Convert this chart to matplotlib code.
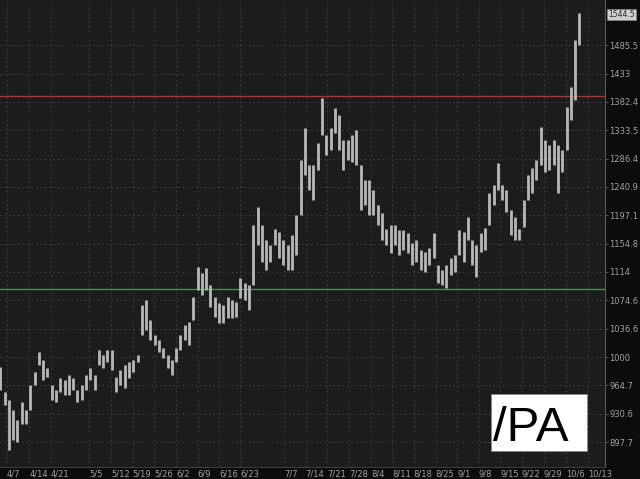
import numpy as np
import matplotlib
matplotlib.use("Agg")
import matplotlib.pyplot as plt
from matplotlib.ticker import NullLocator

# daily high / low, one entry per trading day (first day ~ 4/2, last ~ 10/8)
highs = [988, 956, 947, 935, 923, 944, 935, 965, 981, 1006,
         996, 986, 965, 959, 974, 971, 978, 974, 959, 965,
         978, 986, 978, 1009, 1003, 1009, 1009, 975, 984, 990,
         994, 996, 1003, 1068, 1075, 1048, 1028, 1022, 1012, 1003,
         996, 1012, 1028, 1042, 1046, 1079, 1121, 1112, 1120, 1096,
         1079, 1071, 1068, 1079, 1075, 1072, 1105, 1099, 1096, 1183,
         1209, 1183, 1160, 1153, 1176, 1172, 1160, 1153, 1168, 1198,
         1284, 1337, 1276, 1276, 1312, 1390, 1326, 1337, 1372, 1360,
         1317, 1317, 1326, 1334, 1276, 1252, 1252, 1236, 1213, 1201,
         1176, 1183, 1183, 1175, 1175, 1171, 1156, 1160, 1146, 1143,
         1149, 1171, 1124, 1117, 1124, 1134, 1138, 1175, 1172, 1195,
         1160, 1153, 1171, 1178, 1231, 1244, 1279, 1244, 1236, 1205,
         1195, 1176, 1221, 1260, 1271, 1284, 1339, 1317, 1309, 1317,
         1309, 1301, 1374, 1409, 1496, 1548]
lows = [959, 941, 889, 900, 898, 918, 918, 935, 965, 990,
        971, 975, 947, 944, 957, 953, 953, 959, 944, 947,
        959, 971, 959, 990, 986, 994, 984, 956, 965, 961,
        974, 981, 994, 1028, 1035, 1022, 1016, 1006, 999, 986,
        978, 994, 1009, 1022, 1016, 1048, 1089, 1082, 1089, 1066,
        1052, 1044, 1044, 1051, 1051, 1052, 1078, 1075, 1062, 1096,
        1153, 1128, 1117, 1128, 1153, 1134, 1124, 1117, 1117, 1138,
        1198, 1260, 1236, 1221, 1268, 1326, 1292, 1301, 1329, 1301,
        1268, 1284, 1281, 1276, 1205, 1213, 1198, 1198, 1183, 1160,
        1153, 1141, 1153, 1138, 1146, 1141, 1124, 1128, 1117, 1114,
        1124, 1134, 1099, 1096, 1092, 1110, 1114, 1138, 1128, 1160,
        1124, 1107, 1143, 1146, 1183, 1213, 1236, 1221, 1202, 1168,
        1160, 1160, 1179, 1221, 1231, 1252, 1276, 1265, 1268, 1276,
        1231, 1265, 1301, 1351, 1386, 1486]
last_price = 1544.5

resistance = 1393
support = 1090

y_ticks = [897.7, 930.6, 964.7, 1000, 1036.6, 1074.6, 1114, 1154.8, 1197.1,
           1240.9, 1286.4, 1333.5, 1382.4, 1433, 1485.5]
x_labels = ['4/7', '4/14', '4/21', '5/5', '5/12', '5/19', '5/26', '6/2', '6/9',
            '6/16', '6/23', '7/7', '7/14', '7/21', '7/28', '8/4', '8/11', '8/18',
            '8/25', '9/1', '9/8', '9/15', '9/22', '9/29', '10/6', '10/13']
x_label_pos = [-1.5, 3.8, 8.8, 17.8, 22.8, 27.9, 32.9, 38.0, 43.0, 48.0, 53.0,
               63.2, 68.2, 73.2, 78.4, 83.4, 88.4, 93.4, 98.5, 103.5, 108.6,
               113.6, 118.6, 123.7, 128.9, 134.1]

days = np.arange(len(highs)) - 3

fig = plt.figure(figsize=(6.4, 4.79), dpi=100, facecolor='#0c0c0c')
ax = fig.add_axes([0, 12 / 479, 605 / 640, 467 / 479])
ax.set_facecolor('#1c1c1c')

ax.set_yscale('log')
ax.set_ylim(869.7, 1573.3)
ax.set_xlim(-3.05, 137.97)

ax.grid(True, color='#4a4a4a', linestyle=(0, (1, 3)), linewidth=0.8)
ax.set_axisbelow(True)

ax.axhline(resistance, color='#9a3a3a', linewidth=1.0, zorder=2)
ax.axhline(support, color='#22a535', linewidth=1.0, zorder=2)

ax.vlines(days, lows, highs, color='#b8b8b8', linewidth=2.0, zorder=3)

ax.yaxis.tick_right()
ax.set_yticks(y_ticks)
ax.set_yticklabels([f'{v:g}' for v in y_ticks])
ax.yaxis.set_minor_locator(NullLocator())
ax.tick_params(axis='y', colors='#555555', labelcolor='#a0a0a0',
               labelsize=6, length=2, pad=1)

ax.set_xticks(x_label_pos)
ax.set_xticklabels(x_labels)
for lbl in ax.get_xticklabels():
    lbl.set_horizontalalignment('left')
ax.tick_params(axis='x', labelcolor='#a0a0a0', labelsize=6, length=0, pad=2)

for side in ['top', 'left']:
    ax.spines[side].set_visible(False)
ax.spines['right'].set_color('#5a5a5a')
ax.spines['bottom'].set_color('#3c3c3c')

# last price tag on the price axis
ax.annotate(f'{last_price:g}', xy=(1.0, last_price), xycoords=('axes fraction', 'data'),
            xytext=(2, 0), textcoords='offset points', va='center', ha='left',
            fontsize=5.5, color='#2a2a2a',
            bbox=dict(boxstyle='square,pad=0.15', fc='#cfcfcf', ec='#888888', lw=0.5))

# symbol box
box = plt.Rectangle((491 / 640, 1 - 451 / 479), 96 / 640, 57 / 479,
                    transform=fig.transFigure, facecolor='white', edgecolor='#888888',
                    linewidth=0.6, zorder=5)
fig.add_artist(box)
fig.text(493 / 640, 1 - 441 / 479, '/PA', fontsize=35.5, color='black',
         family='Liberation Sans', ha='left', va='baseline', zorder=6)

fig.savefig('out.png', dpi=100, facecolor=fig.get_facecolor())
